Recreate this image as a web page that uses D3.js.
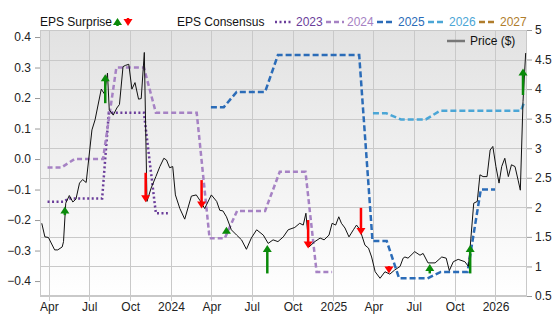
<!DOCTYPE html>
<html>
<head>
<meta charset="utf-8">
<script src="https://cdn.jsdelivr.net/npm/d3@7"></script>
<style>
  body { margin: 0; background: #fff; }
  svg text { font-family: "Liberation Sans", Arial, sans-serif; }
</style>
</head>
<body>
<div id="chart"></div>
<script>
// EPS surprise / consensus chart with price on the right axis

var width = 556;
var height = 315;
var margin = {left: 40, right: 29, top: 30, bottom: 19};

var parse = d3.timeParse("%Y-%m-%d");

// price ($), right axis
var price = [
  ["2023-03-16",1.73],["2023-03-23",1.50],["2023-03-31",1.49],["2023-04-14",1.28],["2023-04-21",1.28],
  ["2023-05-01",1.33],["2023-05-04",1.42],["2023-05-09",2.07],["2023-05-17",2.20],["2023-05-25",2.09],
  ["2023-06-01",2.14],["2023-06-09",2.41],["2023-06-16",2.47],["2023-06-24",2.42],["2023-07-02",2.97],
  ["2023-07-07",3.31],["2023-07-14",3.48],["2023-07-28",4.00],["2023-08-04",3.92],["2023-08-11",4.27],
  ["2023-08-15",3.65],["2023-08-24",3.56],["2023-09-01",3.68],["2023-09-07",3.74],["2023-09-15",4.38],
  ["2023-09-20",4.40],["2023-09-28",4.42],["2023-10-05",4.00],["2023-10-12",4.11],["2023-10-20",3.83],
  ["2023-10-26",3.84],["2023-11-02",4.62],["2023-11-08",2.10],["2023-11-17",2.32],["2023-11-28",2.52],
  ["2023-12-07",2.69],["2023-12-16",2.83],["2023-12-22",2.80],["2023-12-29",2.67],["2024-01-05",2.69],
  ["2024-01-11",2.21],["2024-01-21",1.98],["2024-02-01",1.80],["2024-02-16",2.19],["2024-02-27",2.21],
  ["2024-03-06",2.12],["2024-03-17",1.98],["2024-04-01",2.21],["2024-04-13",2.10],["2024-04-20",1.95],
  ["2024-04-27",1.94],["2024-05-05",1.84],["2024-05-16",1.62],["2024-05-28",1.53],["2024-06-08",1.45],
  ["2024-06-19",1.29],["2024-06-30",1.48],["2024-07-12",1.62],["2024-07-27",1.53],["2024-08-07",1.39],
  ["2024-08-18",1.45],["2024-08-29",1.42],["2024-09-10",1.50],["2024-09-21",1.62],["2024-10-06",1.66],
  ["2024-10-17",1.73],["2024-10-25",1.70],["2024-10-31",1.90],["2024-11-07",1.33],["2024-11-20",1.42],
  ["2024-12-02",1.48],["2024-12-11",1.45],["2024-12-22",1.53],["2024-12-29",1.73],["2025-01-06",1.70],
  ["2025-01-13",1.84],["2025-01-19",1.73],["2025-01-27",1.65],["2025-02-05",1.50],["2025-02-15",1.62],
  ["2025-02-22",1.70],["2025-03-02",1.62],["2025-03-07",1.50],["2025-03-13",1.36],["2025-03-21",1.31],
  ["2025-03-28",1.16],["2025-04-05",0.91],["2025-04-16",0.80],["2025-04-27",0.91],["2025-05-08",0.87],
  ["2025-05-19",0.94],["2025-05-31",1.00],["2025-06-07",1.14],["2025-06-11",1.16],["2025-06-18",1.14],
  ["2025-07-03",1.25],["2025-07-15",1.19],["2025-07-22",1.22],["2025-08-02",1.06],["2025-08-18",1.06],
  ["2025-09-02",1.16],["2025-09-12",1.14],["2025-09-19",0.93],["2025-09-28",1.08],["2025-10-09",1.12],
  ["2025-10-24",1.08],["2025-11-01",1.00],["2025-11-05",1.33],["2025-11-13",2.07],["2025-11-21",2.10],
  ["2025-11-27",2.55],["2025-12-04",2.52],["2025-12-13",2.52],["2025-12-20",2.97],["2025-12-26",3.03],
  ["2026-01-02",2.69],["2026-01-09",2.41],["2026-01-15",2.69],["2026-01-22",2.83],["2026-01-30",2.52],
  ["2026-02-06",2.72],["2026-02-14",2.69],["2026-02-21",2.46],["2026-02-26",2.29],["2026-03-04",3.79],
  ["2026-03-10",4.61]
];

// EPS consensus by fiscal year, left axis
var cons2023 = [
  ["2023-03-29",-0.140],["2023-05-03",-0.140],["2023-05-17",-0.129],["2023-07-30",-0.129],
  ["2023-08-14",0.152],["2023-11-01",0.152],["2023-11-28",-0.178],["2023-12-25",-0.178]
];
var cons2024 = [
  ["2023-03-29",-0.028],["2023-04-29",-0.028],["2023-05-29",0.0],["2023-08-01",0.0],
  ["2023-08-31",0.30],["2023-11-01",0.30],["2023-11-28",0.152],["2024-02-28",0.152],
  ["2024-03-28",-0.26],["2024-05-01",-0.26],["2024-05-29",-0.17],["2024-07-31",-0.17],
  ["2024-09-02",-0.042],["2024-10-30",-0.042],["2024-11-24",-0.37],["2024-12-29",-0.37]
];
var cons2025 = [
  ["2024-03-31",0.17],["2024-04-29",0.17],["2024-05-28",0.22],["2024-07-31",0.22],
  ["2024-08-29",0.341],["2025-02-28",0.341],["2025-03-30",-0.269],["2025-05-01",-0.269],
  ["2025-05-29",-0.391],["2025-08-01",-0.391],["2025-08-31",-0.37],["2025-10-30",-0.37],
  ["2025-11-29",-0.10],["2025-12-31",-0.10]
];
var cons2026 = [
  ["2025-03-31",0.15],["2025-04-30",0.15],["2025-06-02",0.13],["2025-07-28",0.13],
  ["2025-08-29",0.158],["2026-02-27",0.158],["2026-03-08",0.19]
];
var cons2027 = [];

// EPS surprise arrows: date, consensus, actual
var surprises = [
  ["2023-05-07",-0.184,-0.156],["2023-08-06",0.183,0.278],["2023-11-05",-0.045,-0.142],
  ["2024-03-10",-0.069,-0.162],["2024-05-05",-0.238,-0.222],["2024-08-05",-0.375,-0.282],
  ["2024-11-05",-0.200,-0.293],["2025-03-04",-0.160,-0.249],["2025-05-06",-0.351,-0.375],
  ["2025-08-06",-0.375,-0.344],["2025-11-05",-0.375,-0.282],["2026-03-04",0.210,0.297]
];

var epsTicks = [-0.4,-0.3,-0.2,-0.1,0,0.1,0.2,0.3,0.4];
var priceTicks = [0.5,1,1.5,2,2.5,3,3.5,4,4.5,5];

var series = [
  {name: "2023", data: cons2023, color: "#6a3d9a", dash: "2,2.5"},
  {name: "2024", data: cons2024, color: "#a682c4", dash: "5,3"},
  {name: "2025", data: cons2025, color: "#2b6cb8", dash: "6,3"},
  {name: "2026", data: cons2026, color: "#4ba6d6", dash: "6,3"},
  {name: "2027", data: cons2027, color: "#b07d2c", dash: "6,3"}
];

var svg = d3.select("#chart").append("svg")
  .attr("width", width)
  .attr("height", height);

var x0 = margin.left, x1 = width - margin.right;
var y0 = height - margin.bottom, y1 = margin.top;

var xScale = d3.scaleTime()
  .domain([parse("2023-03-12"), parse("2026-03-13")])
  .range([x0, x1]);
var yEps = d3.scaleLinear().domain([-0.449, 0.423]).range([y0, y1]);
var yPrice = d3.scaleLinear().domain([0.5, 5]).range([y0, y1]);

// background gradient
var grad = svg.append("defs").append("linearGradient")
  .attr("id", "bg").attr("x1", 0).attr("y1", 0).attr("x2", 0).attr("y2", 1);
grad.append("stop").attr("offset", "0%").attr("stop-color", "#e2e2e2");
grad.append("stop").attr("offset", "100%").attr("stop-color", "#ffffff");

svg.append("rect")
  .attr("x", x0).attr("y", y1)
  .attr("width", x1 - x0).attr("height", y0 - y1)
  .attr("fill", "url(#bg)");

// grid
var xTicks = d3.timeMonth.every(3).range(parse("2023-04-01"), parse("2026-03-01"));
var grid = svg.append("g").attr("stroke", "#c9c9c9").attr("stroke-width", 1);
grid.selectAll(".v").data(xTicks).enter().append("line")
  .attr("x1", d => Math.round(xScale(d)) + 0.5).attr("x2", d => Math.round(xScale(d)) + 0.5)
  .attr("y1", y1).attr("y2", y0 + 5);
grid.selectAll(".h").data(priceTicks).enter().append("line")
  .attr("x1", x0).attr("x2", x1)
  .attr("y1", d => Math.round(yPrice(d)) + 0.5).attr("y2", d => Math.round(yPrice(d)) + 0.5);
svg.append("rect")
  .attr("x", x0 + 0.5).attr("y", y1 + 0.5)
  .attr("width", x1 - x0 - 1).attr("height", y0 - y1 - 1)
  .attr("fill", "none").attr("stroke", "#c9c9c9");

// axes
var fmtMonth = d3.timeFormat("%b"), fmtYear = d3.timeFormat("%Y");
var xAxis = d3.axisBottom(xScale).tickValues(xTicks).tickSize(0).tickPadding(6)
  .tickFormat(d => d.getMonth() === 0 ? fmtYear(d) : fmtMonth(d));
var leftAxis = d3.axisLeft(yEps).tickValues(epsTicks).tickSize(5).tickPadding(4)
  .tickFormat(d3.format(".1f"));
var rightAxis = d3.axisRight(yPrice).tickValues(priceTicks).tickSize(5).tickPadding(3)
  .tickFormat(d => d);

function styleAxis(g) {
  g.select(".domain").remove();
  g.selectAll("line").attr("stroke", "#999");
  g.selectAll("text").attr("fill", "#222").style("font-size", "12px")
    .style("font-family", "'Liberation Sans', Arial, sans-serif");
}

svg.append("g").attr("transform", "translate(0," + y0 + ")").call(xAxis).call(styleAxis);
svg.append("g").attr("transform", "translate(" + x0 + ",0)").call(leftAxis).call(styleAxis);
svg.append("g").attr("transform", "translate(" + x1 + ",0)").call(rightAxis).call(styleAxis);

// consensus lines
var consLine = d3.line()
  .x(d => xScale(parse(d[0])))
  .y(d => yEps(d[1]));
svg.append("g").selectAll("path")
  .data(series.filter(s => s.data.length))
  .enter().append("path")
  .attr("d", s => consLine(s.data))
  .attr("fill", "none")
  .attr("stroke", s => s.color)
  .attr("stroke-width", 2.5)
  .attr("stroke-dasharray", s => s.dash);

// price line
var priceLine = d3.line()
  .x(d => xScale(parse(d[0])))
  .y(d => yPrice(d[1]));
svg.append("path")
  .attr("d", priceLine(price))
  .attr("fill", "none")
  .attr("stroke", "#111")
  .attr("stroke-width", 1)
  .attr("stroke-linejoin", "round");

// surprise arrows
function arrow(g, x, yFrom, yTo, color) {
  var up = yTo < yFrom;
  var dir = up ? 1 : -1;
  var head = 7;
  g.append("line")
    .attr("x1", x).attr("x2", x)
    .attr("y1", yFrom).attr("y2", yTo + dir * (head - 1))
    .attr("stroke", color).attr("stroke-width", 2.5);
  g.append("path")
    .attr("d", "M" + (x - 4.5) + "," + (yTo + dir * head) + "L" + x + "," + yTo +
      "L" + (x + 4.5) + "," + (yTo + dir * head) + "Z")
    .attr("fill", color);
}
var arrows = svg.append("g");
surprises.forEach(function(s) {
  var color = s[2] > s[1] ? "#0a8a0a" : "#ff0000";
  arrow(arrows, xScale(parse(s[0])), yEps(s[1]), yEps(s[2]), color);
});

// legend
var legend = svg.append("g").style("font-size", "12px");
legend.append("text").attr("x", 40).attr("y", 26).attr("fill", "#111").text("EPS Surprise");
arrow(legend, 117.5, 26, 18, "#0a8a0a");
arrow(legend, 128, 18, 26, "#ff0000");
legend.append("text").attr("x", 177).attr("y", 26).attr("fill", "#111").text("EPS Consensus");

var legX = 275;
series.forEach(function(s, i) {
  var lx = legX + i * 51;
  legend.append("line")
    .attr("x1", lx).attr("x2", lx + 18)
    .attr("y1", 22).attr("y2", 22)
    .attr("stroke", s.color).attr("stroke-width", 2.5)
    .attr("stroke-dasharray", s.dash);
  legend.append("text").attr("x", lx + 21).attr("y", 26)
    .attr("fill", s.color).text(s.name);
});

legend.append("line")
  .attr("x1", 447).attr("x2", 465).attr("y1", 41).attr("y2", 41)
  .attr("stroke", "#777").attr("stroke-width", 2.5);
legend.append("text").attr("x", 470).attr("y", 45).attr("fill", "#111").text("Price ($)");
</script>
</body>
</html>
